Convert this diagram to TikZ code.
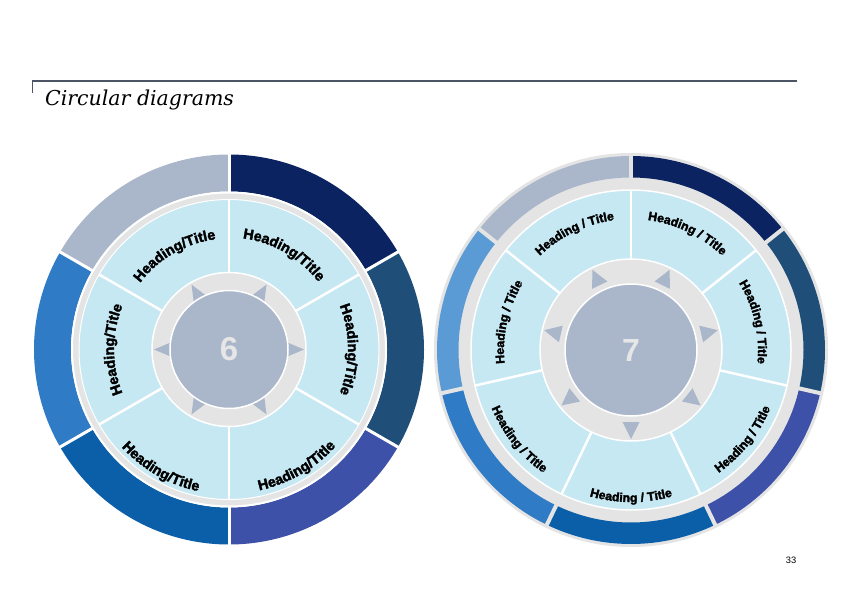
\documentclass[tikz,border=0pt]{standalone}
\usepackage{fontspec}
\setmainfont{Liberation Sans}
\newfontfamily\hfont[BoldFeatures={FakeBold=2.5}]{Liberation Sans}
\newfontfamily\titlefont{DejaVu Serif}
\usetikzlibrary{decorations.text,calc}
\definecolor{cgrayblue}{HTML}{AAB7CA}
\definecolor{cnavy}{HTML}{0B2361}
\definecolor{cslate}{HTML}{1F4E79}
\definecolor{cindigo}{HTML}{3E51A8}
\definecolor{cmid}{HTML}{0A5FA8}
\definecolor{cblue}{HTML}{2F7BC5}
\definecolor{clight}{HTML}{5B9BD5}
\definecolor{cgray}{HTML}{E4E4E4}
\definecolor{csector}{HTML}{C6E8F3}
\definecolor{cline}{HTML}{4B5566}
\definecolor{cnum}{HTML}{E6E6E6}
\newcommand\myannsec[6]{%
  \fill[#6] ($(#1)+(#2:#5)$) arc[start angle=#2,end angle=#3,radius=#5pt]
    -- ($(#1)+(#3:#4)$) arc[start angle=#3,end angle=#2,radius=#4pt] -- cycle;}
\newcommand\mytoplabel[5]{%
  \path[decorate,decoration={text along path,text align=center,
    text={|\hfont\bfseries\fontsize{#4}{#4}\selectfont|#5}}]
    ($(#1)+(#2+45:#3)$) arc[start angle=#2+45,end angle=#2-45,radius=#3pt];}
\newcommand\mybotlabel[5]{%
  \path[decorate,decoration={text along path,text align=center,
    text={|\hfont\bfseries\fontsize{#4}{#4}\selectfont|#5}}]
    ($(#1)+(#2-45:#3)$) arc[start angle=#2-45,end angle=#2+45,radius=#3pt];}
\newcommand\mytri[5]{% center, angle, base r, tip r, half width
  \fill[cgrayblue] ($(#1)+(#2:#4)$) -- ($(#1)+(#2:#3)+(#2+90:#5)$) -- ($(#1)+(#2:#3)+(#2-90:#5)$) -- cycle;}
\begin{document}
\begin{tikzpicture}[x=1pt,y=1pt]
\useasboundingbox (0,0) rectangle (842,595);
\fill[white] (0,0) rectangle (842,595);
% header
\coordinate (hl) at (32,514);
\coordinate (hr) at (797,514);
\coordinate (ht) at (32,502);
\draw[cline,line width=2] (hl) -- (hr);
\draw[cline,line width=1] (hl) -- (ht);
\node[anchor=base west,inner sep=0] (title) at (45,489) {\titlefont\itshape\fontsize{20.5}{22}\selectfont Circular diagrams};
\node[anchor=base,inner sep=0] (pg) at (791,31.7) {\fontsize{9.3}{10}\selectfont 33};
% ===== left diagram (6) =====
\coordinate (L) at (229,245.5);
\myannsec{L}{90}{150}{158}{195}{cgrayblue}
\myannsec{L}{30}{90}{158}{195}{cnavy}
\myannsec{L}{-30}{30}{158}{195}{cslate}
\myannsec{L}{-90}{-30}{158}{195}{cindigo}
\myannsec{L}{-150}{-90}{158}{195}{cmid}
\myannsec{L}{150}{210}{158}{195}{cblue}
\foreach \a in {90,30,-30,-90,-150,150}{
  \draw[white,line width=3] ($(L)+(\a:150)$) -- ($(L)+(\a:197)$);}
\fill[cgray,draw=white,line width=2] (L) circle[radius=157pt];
\fill[csector,draw=white,line width=1] (L) circle[radius=150pt];
\foreach \a in {90,30,-30,-90,-150,150}{
  \draw[white,line width=2.5] ($(L)+(\a:70)$) -- ($(L)+(\a:150)$);}
\fill[cgray,draw=white,line width=1.5] (L) circle[radius=77pt];
\foreach \a in {0,60,120,180,240,300}{\mytri{L}{\a}{56}{75}{8}}
\fill[cgrayblue,draw=white,line width=1.5] (L) circle[radius=59pt];
\node[text=cnum,font=\bfseries\fontsize{33}{33}\selectfont] (six) at (L) {6};
\mytoplabel{L}{120}{111}{14.3}{Heading/Title}
\mytoplabel{L}{60}{112}{14.3}{Heading/Title}
\mytoplabel{L}{0}{119}{14.3}{Heading/Title}
\mytoplabel{L}{180}{115}{14.3}{Heading/Title}
\mybotlabel{L}{240}{145}{14.3}{Heading/Title}
\mybotlabel{L}{300}{144}{14.3}{Heading/Title}
% ===== right diagram (7) =====
\coordinate (R) at (631,245);
\fill[cgray] (R) circle[radius=197pt];
\myannsec{R}{90}{141.43}{172.5}{194}{cgrayblue}
\myannsec{R}{38.57}{90}{172.5}{194}{cnavy}
\myannsec{R}{-12.86}{38.57}{172.5}{194}{cslate}
\myannsec{R}{-64.29}{-12.86}{172.5}{194}{cindigo}
\myannsec{R}{-115.71}{-64.29}{172.5}{194}{cmid}
\myannsec{R}{-167.14}{-115.71}{172.5}{194}{cblue}
\myannsec{R}{141.43}{192.86}{172.5}{194}{clight}
\foreach \k in {0,...,6}{
  \draw[cgray,line width=4] ($(R)+(90-\k*51.4286:170)$) -- ($(R)+(90-\k*51.4286:196)$);}
\fill[csector,draw=white,line width=1.5] (R) circle[radius=160pt];
\foreach \k in {0,...,6}{
  \draw[white,line width=2.5] ($(R)+(90-\k*51.4286:85)$) -- ($(R)+(90-\k*51.4286:160)$);}
\fill[cgray,draw=white,line width=1.5] (R) circle[radius=91pt];
\foreach \k in {0,...,6}{\mytri{R}{64.2857-\k*51.4286}{72}{89}{8.5}}
\fill[cgrayblue,draw=white,line width=1.5] (R) circle[radius=66pt];
\node[text=cnum,font=\bfseries\fontsize{32}{32}\selectfont] (seven) at (R) {7};
\mytoplabel{R}{115.71}{131}{12.3}{Heading / Title}
\mytoplabel{R}{64.29}{131}{12.3}{Heading / Title}
\mytoplabel{R}{12.86}{127}{12.3}{Heading / Title}
\mytoplabel{R}{167.14}{127}{12.3}{Heading / Title}
\mybotlabel{R}{-38.57}{151}{12.3}{Heading / Title}
\mybotlabel{R}{-90}{152}{12.3}{Heading / Title}
\mybotlabel{R}{-141.43}{151}{12.3}{Heading / Title}
\end{tikzpicture}
\end{document}
